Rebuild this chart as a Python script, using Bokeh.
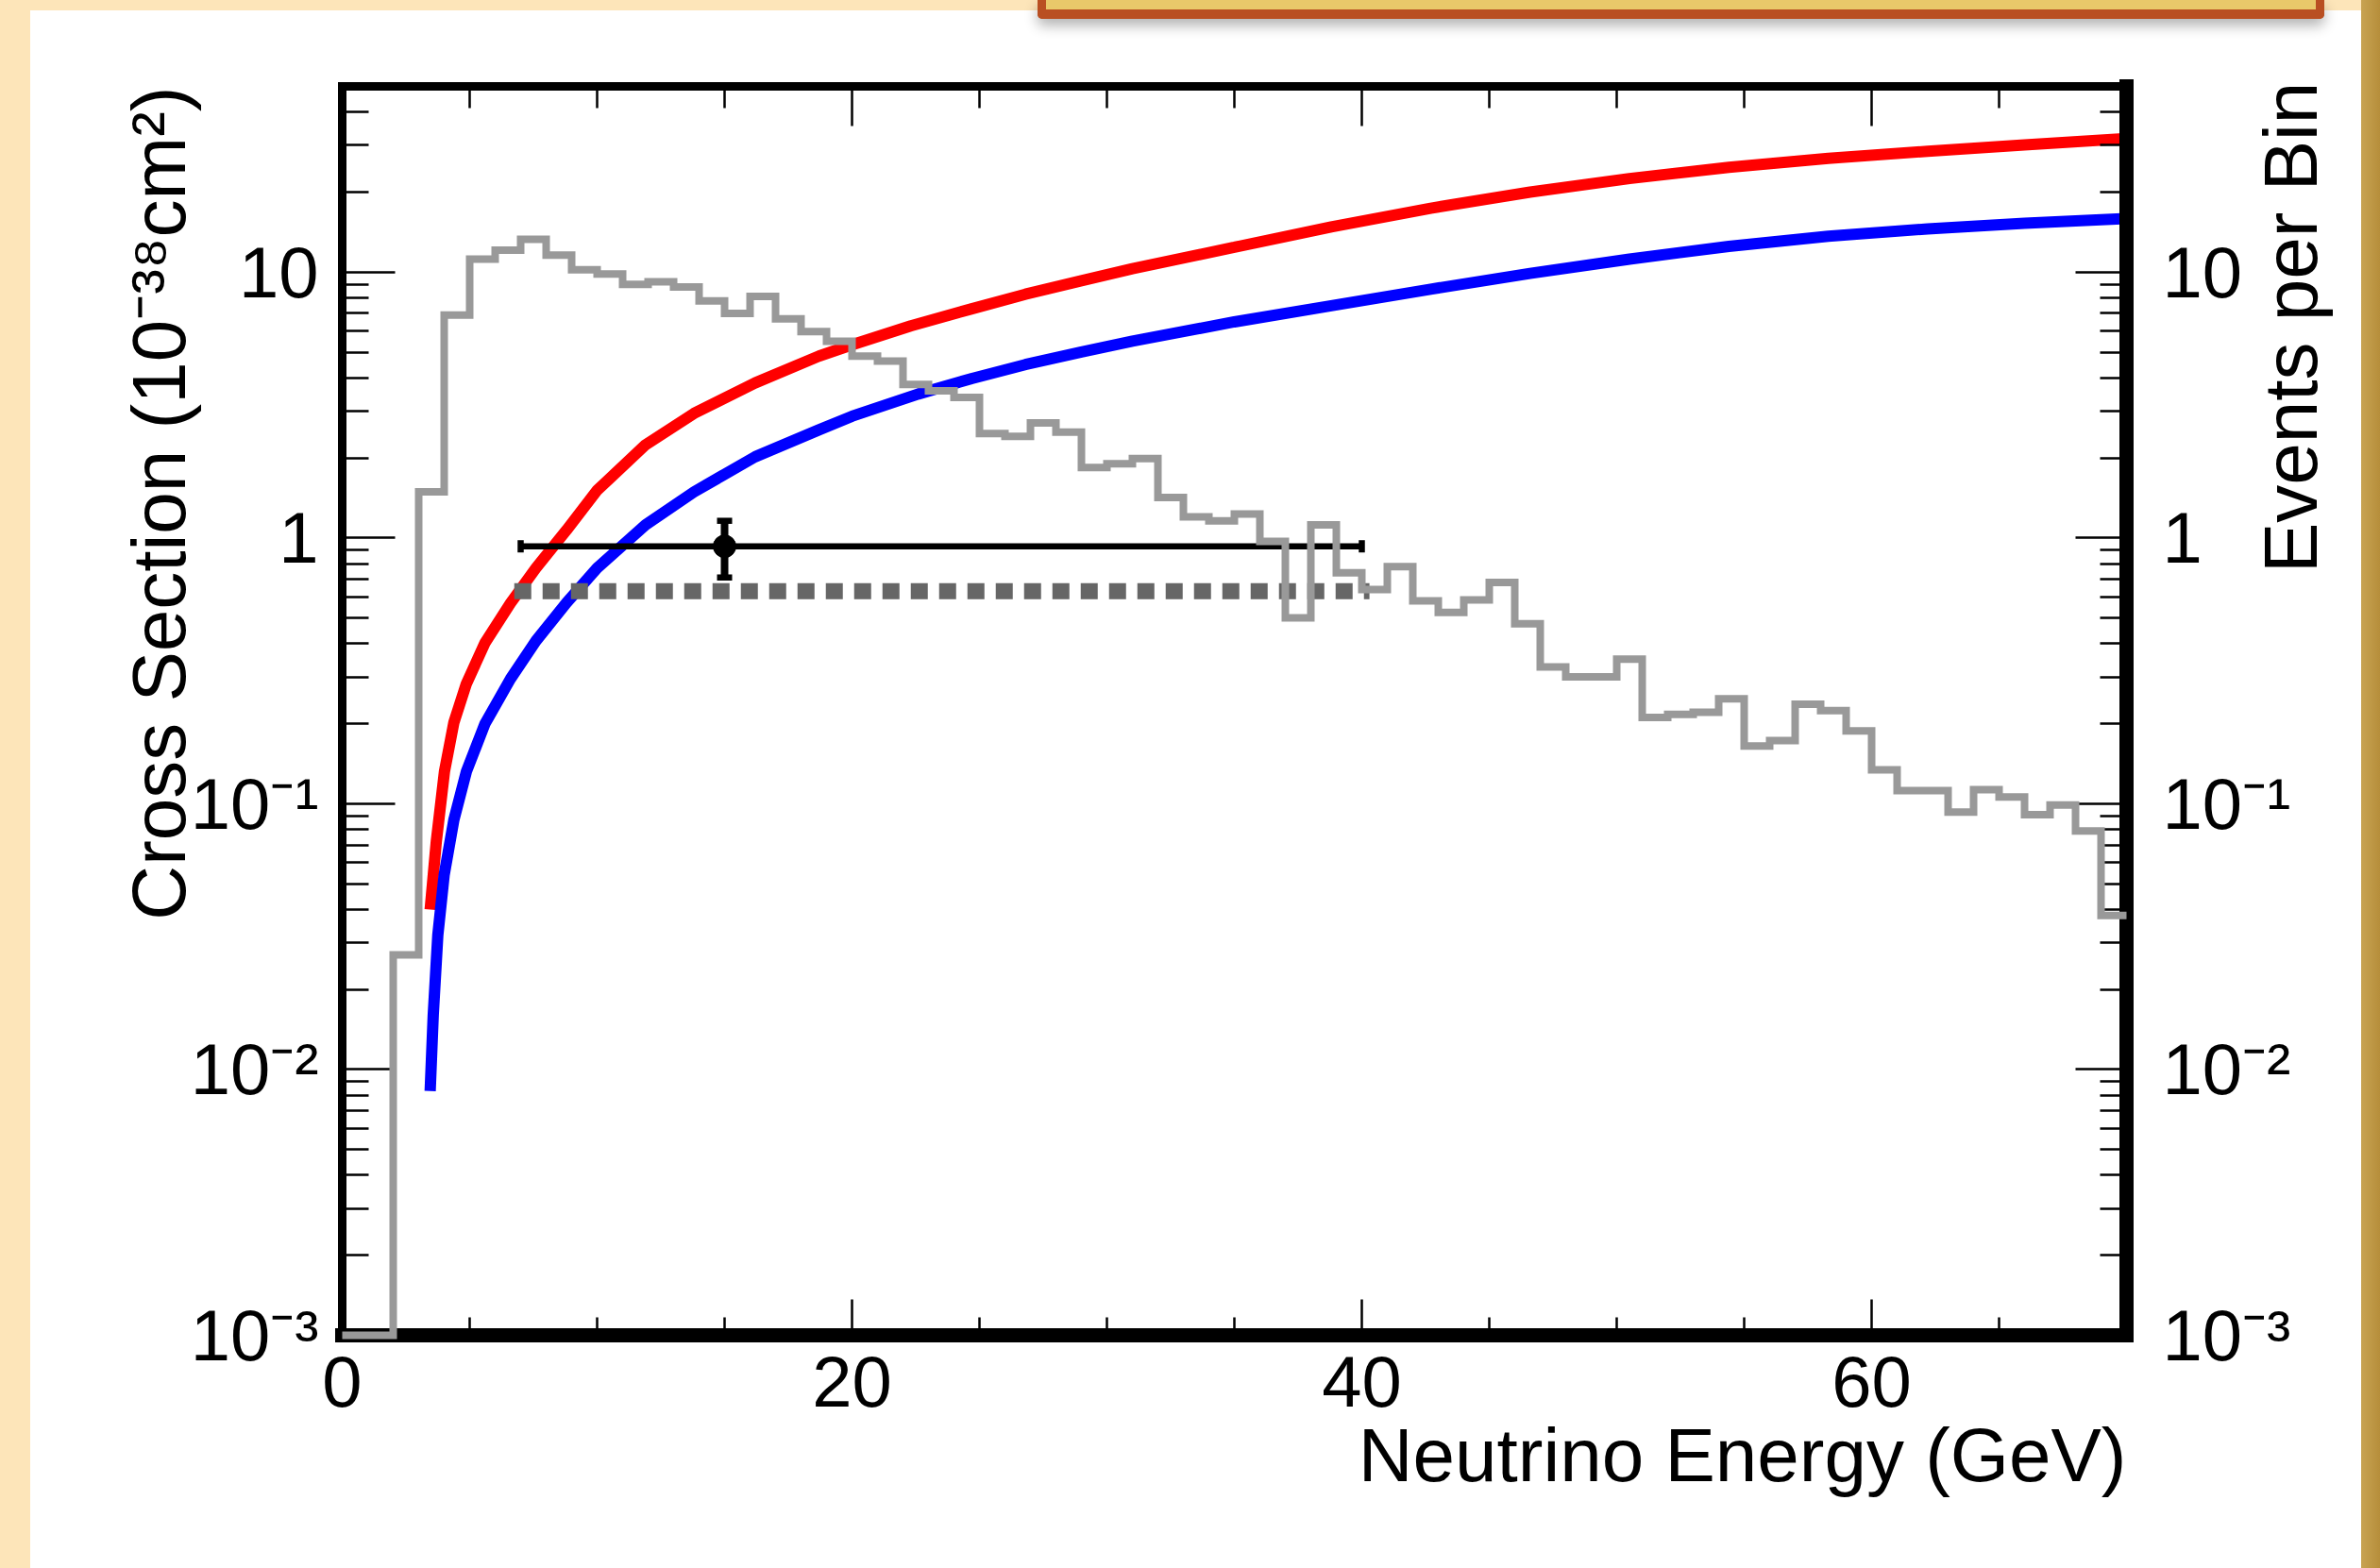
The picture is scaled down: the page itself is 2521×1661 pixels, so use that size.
import math
from bokeh.plotting import figure
from bokeh.models import Range1d, LinearAxis, LogAxis, FixedTicker, Title, InlineStyleSheet, Div
from bokeh.layouts import column
from bokeh.embed import file_html
from bokeh.resources import INLINE

# ---------------- data ----------------
bin_edges = [float(e) for e in range(0, 71)]          # 1 GeV bins, 0..70 GeV
events_per_bin = [0.0, 0.0, 0.027, 1.49, 6.9, 11.2, 12.1, 13.3, 11.6, 10.2,
                  9.84, 9.0, 9.2, 8.8, 7.8, 7.0, 8.1, 6.67, 5.97, 5.5,
                  4.83, 4.63, 3.78, 3.58, 3.38, 2.47, 2.41, 2.71, 2.50, 1.84,
                  1.90, 1.99, 1.42, 1.20, 1.16, 1.23, 0.97, 0.50, 1.12, 0.74,
                  0.64, 0.78, 0.58, 0.525, 0.585, 0.68, 0.475, 0.327, 0.30, 0.30,
                  0.35, 0.211, 0.217, 0.221, 0.248, 0.165, 0.173, 0.237, 0.224, 0.188,
                  0.134, 0.112, 0.112, 0.093, 0.113, 0.106, 0.091, 0.099, 0.079, 0.038]

red_energy = [3.45, 3.69, 4.01, 4.38, 4.86, 5.6, 6.6, 7.6, 8.8, 10.0, 11.9, 13.8,
              16.2, 18.7, 20.0, 22.3, 24.7, 26.8, 29.0, 31.0, 35.0, 38.8, 42.7,
              46.6, 50.5, 54.4, 58.3, 62.2, 66.0, 70.0]
red_xsec = [0.040, 0.072, 0.132, 0.202, 0.281, 0.403, 0.568, 0.77, 1.07, 1.51, 2.24, 2.94,
            3.83, 4.83, 5.33, 6.28, 7.28, 8.26, 9.29, 10.3, 12.4, 14.8, 17.4,
            20.0, 22.5, 24.8, 26.8, 28.5, 30.1, 31.8]

blue_energy = [3.45, 3.57, 3.75, 4.0, 4.38, 4.87, 5.6, 6.6, 7.6, 8.8, 10.0, 11.9, 13.8,
               16.2, 18.7, 20.0, 22.6, 24.7, 26.8, 29.0, 31.0, 35.0, 38.8, 42.7, 46.6,
               50.5, 54.4, 58.3, 62.2, 66.0, 70.0]
blue_xsec = [0.0083, 0.016, 0.032, 0.054, 0.087, 0.132, 0.20, 0.295, 0.41, 0.57, 0.77, 1.12, 1.49,
             2.02, 2.55, 2.87, 3.48, 3.98, 4.49, 5.01, 5.5, 6.5, 7.48, 8.63, 9.89,
             11.2, 12.5, 13.65, 14.55, 15.28, 15.9]

meas_energy = [15.0]
meas_energy_low = [7.0]
meas_energy_high = [40.0]
meas_xsec = [0.93]
meas_xsec_low = [0.71]
meas_xsec_high = [1.16]

expect_energy = [6.75, 40.3]
expect_xsec = [0.63, 0.63]

x_major_ticks = [0, 20, 40, 60]
x_minor_ticks = [5, 10, 15, 25, 30, 35, 45, 50, 55, 65]
y_major_ticks = [0.001, 0.01, 0.1, 1, 10]
y_major_labels = ["10⁻³", "10⁻²", "10⁻¹", "1", "10"]
y_minor_ticks = [m * d for d in (0.001, 0.01, 0.1, 1) for m in range(2, 10)] + [20, 30, 40]

x_title = "Neutrino Energy (GeV)"
y_title = "Cross Section (10⁻³⁸cm²)"
y2_title = "Events per Bin"

X_RANGE = (0, 70)
Y_RANGE = (0.001, 50)

# ---------------- figure ----------------
FONT = "Liberation Sans"

p = figure(width=2521, height=1661,
           x_range=Range1d(*X_RANGE), y_range=Range1d(*Y_RANGE),
           y_axis_type="log", toolbar_location=None, output_backend="svg",
           min_border_left=362, min_border_right=269, min_border_top=91, min_border_bottom=247,
           background_fill_color="white", border_fill_color=None,
           outline_line_color=None)
p.xgrid.visible = False
p.ygrid.visible = False


def style_axis(ax, line_w, maj_in, min_in, standoff, size="76px"):
    ax.axis_line_width = line_w
    ax.axis_line_color = "black"
    ax.axis_line_cap = "square"
    ax.major_tick_in = maj_in
    ax.major_tick_out = 0
    ax.minor_tick_in = min_in
    ax.minor_tick_out = 0
    ax.major_tick_line_width = 2.5
    ax.minor_tick_line_width = 2.5
    ax.major_tick_line_color = "black"
    ax.minor_tick_line_color = "black"
    ax.major_label_text_font = FONT
    ax.major_label_text_font_size = size
    ax.major_label_text_color = "black"
    ax.major_label_standoff = standoff


bx = p.xaxis[0]
bx.ticker = FixedTicker(ticks=x_major_ticks, minor_ticks=x_minor_ticks)
style_axis(bx, 15, 38, 19, 22)

ly = p.yaxis[0]
ly.ticker = FixedTicker(ticks=y_major_ticks, minor_ticks=y_minor_ticks)
ly.major_label_overrides = dict(zip(y_major_ticks, y_major_labels))
style_axis(ly, 9, 56, 28, 25)

tx = LinearAxis(ticker=FixedTicker(ticks=x_major_ticks, minor_ticks=x_minor_ticks),
                major_label_overrides={t: "" for t in x_major_ticks})
style_axis(tx, 9, 42, 23, 0)
p.add_layout(tx, "above")

ry = LogAxis(ticker=FixedTicker(ticks=y_major_ticks, minor_ticks=y_minor_ticks),
             major_label_overrides=dict(zip(y_major_ticks, y_major_labels)))
style_axis(ry, 15, 54, 28, 38)
p.add_layout(ry, "right")

# ---------------- glyphs ----------------
p.line(red_energy, red_xsec, line_color="#FF0000", line_width=12, line_cap="butt")
p.line(blue_energy, blue_xsec, line_color="#0000FF", line_width=12, line_cap="butt")

p.line(expect_energy, expect_xsec, line_color="#666666", line_width=17,
       line_dash="18 12", line_cap="butt")

p.segment(x0=meas_energy_low, y0=meas_xsec, x1=meas_energy_high, y1=meas_xsec,
          line_color="black", line_width=6.5)
p.segment(x0=meas_energy, y0=meas_xsec_low, x1=meas_energy, y1=meas_xsec_high,
          line_color="black", line_width=8)
p.scatter(x=meas_energy * 2, y=meas_xsec_low + meas_xsec_high, marker="dash",
          size=16, line_width=6.5, line_color="black")
p.scatter(x=meas_energy_low + meas_energy_high, y=meas_xsec * 2, marker="dash",
          angle=math.pi / 2, size=13, line_width=6.5, line_color="black")
p.scatter(x=meas_energy, y=meas_xsec, marker="circle", size=24,
          fill_color="black", line_color="black")

hist_y = [max(v, Y_RANGE[0]) for v in events_per_bin]
p.step(x=bin_edges, y=hist_y + [hist_y[-1]], mode="after",
       line_color="#999999", line_width=8, line_join="miter", level="overlay")

# ---------------- axis titles ----------------
t_bottom = Title(text=x_title, align="right", text_font=FONT, text_font_size="80px",
                 text_font_style="normal", text_color="black", standoff=4)
t_left = Title(text=y_title, align="right", text_font=FONT, text_font_size="80px",
               text_font_style="normal", text_color="black", standoff=0)
try:
    t_left.standoff = -28
except Exception:
    pass
p.add_layout(t_bottom, "below")
p.add_layout(t_left, "left")

# right-hand title: rotated text (reads bottom to top, ends near the frame top)
right_title_css = InlineStyleSheet(css="""
:host {
  position: absolute !important;
  left: 2387px !important;
  top: 607px !important;
  width: 600px !important;
  height: 80px !important;
  margin: 0 !important;
  padding: 0 !important;
  overflow: visible !important;
  transform: rotate(-90deg);
  transform-origin: 0 0;
  z-index: 5;
}
:host, :host * {
  font-family: 'Liberation Sans', sans-serif !important;
  font-size: 80px !important;
  line-height: 80px !important;
  color: #000000 !important;
  white-space: nowrap !important;
  margin: 0 !important;
  padding: 0 !important;
}
""")
right_title = Div(text=y2_title, width=600, height=80, stylesheets=[right_title_css])

# ---------------- slide decoration ----------------
page_css = InlineStyleSheet(css="""
:host {
  background:
    linear-gradient(#FFFFFF, #FFFFFF) 32px 11px / 2469px 1650px no-repeat,
    linear-gradient(90deg, #C8A352 0%, #B68E3B 100%) 2501px 0px / 20px 1661px no-repeat,
    #FDE5B9;
}
:host::after {
  content: "";
  position: absolute;
  left: 1099px; top: 0px;
  width: 1363px; height: 20px;
  box-sizing: border-box;
  background: #E9C86A;
  border-left: 9px solid #B94F22;
  border-right: 9px solid #B94F22;
  border-bottom: 10px solid #B94F22;
  border-radius: 0 0 5px 5px;
  box-shadow: 0 7px 14px rgba(0, 0, 0, 0.30);
  z-index: 10;
  pointer-events: none;
}
""")

root = column(p, right_title, width=2521, height=1661, stylesheets=[page_css])

open("out.html", "w").write(file_html(root, INLINE))
